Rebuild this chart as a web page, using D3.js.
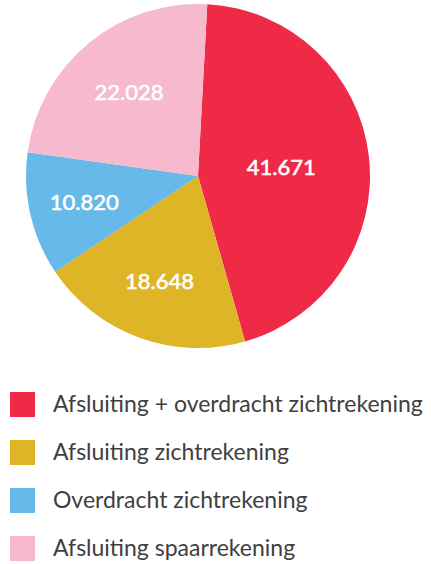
<html>
    <head>
        <title>Pie</title>
        <script type="text/javascript" src="https://cdn.jsdelivr.net/npm/d3@7"></script>
        <style>
            body{
                margin: 0;
                background: white;
            }
            .slice_label{
                font-family: Lato, sans-serif;
                font-size: 22px;
                font-weight: 400;
                fill: white;
                stroke: white;
                stroke-width: 0.6px;
            }
            .legend_text{
                font-family: Lato, sans-serif;
                font-size: 23px;
                fill: #404040;
            }
        </style>
    </head>
    <body>
        <script type="text/javascript">
            // Data
            let categories = ["Afsluiting + overdracht zichtrekening", "Afsluiting zichtrekening", "Overdracht zichtrekening", "Afsluiting spaarrekening"]
            let values = [41671, 18648, 10820, 22028]
            let labels = ["41.671", "18.648", "10.820", "22.028"]
            let colors = ["#ee2a47", "#deb527", "#66b9e8", "#f6b9ce"]

            let w = 431
            let h = 564
            let cx = 198
            let cy = 176
            let r = 172
            let svg = d3.select("body")
                        .append("svg")
                        .attr("width", w)
                        .attr("height", h)

            let pie = d3.pie()
                        .sort(null)
                        .startAngle(0.054)
                        .endAngle(0.054 + 2*Math.PI)
            let arcs = pie(values)
            let arc = d3.arc()
                        .innerRadius(0)
                        .outerRadius(r)

            let g = svg.append("g")
                        .attr("transform", "translate(" + cx + "," + cy + ")")
            g.selectAll("path")
                .data(arcs)
                .enter()
                .append("path")
                .attr("d", arc)
                .attr("fill", (d, i) => colors[i])

            // labels at the sector's centroid
            g.selectAll("text")
                .data(arcs)
                .enter()
                .append("text")
                .attr("class", "slice_label")
                .attr("text-anchor", "middle")
                .attr("dy", "0.36em")
                .attr("transform", d => {
                    let theta = d.endAngle - d.startAngle
                    let mid = (d.startAngle + d.endAngle) / 2
                    let dist = 1.04 * 4 * r * Math.sin(theta/2) / (3*theta)
                    return "translate(" + (dist*Math.sin(mid)) + "," + (-dist*Math.cos(mid)) + ")"
                })
                .text((d, i) => labels[i])

            // Legend
            let legendY = d3.scalePoint()
                            .domain(categories)
                            .range([392, 536])
            let legend = svg.selectAll(".legend")
                            .data(categories)
                            .enter()
                            .append("g")
                            .attr("class", "legend")
                            .attr("transform", d => "translate(10," + legendY(d) + ")")
            legend.append("rect")
                .attr("width", 25)
                .attr("height", 25)
                .attr("fill", (d, i) => colors[i])
            legend.append("text")
                .attr("class", "legend_text")
                .attr("x", 43)
                .attr("y", 20)
                .text(d => d)
        </script>
    </body>
</html>
